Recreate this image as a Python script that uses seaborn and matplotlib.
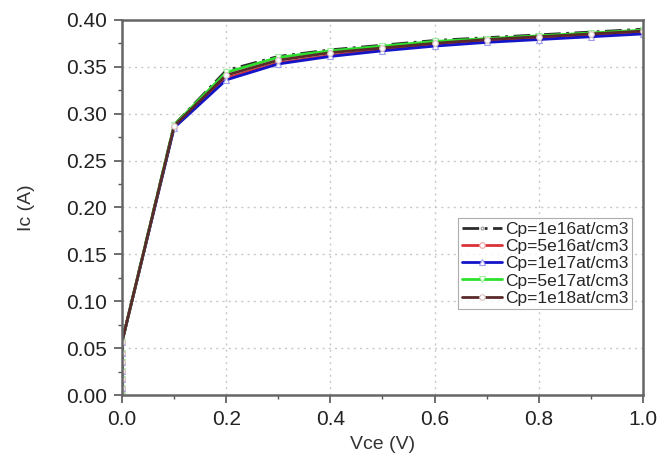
import matplotlib
matplotlib.use('Agg')
import matplotlib.pyplot as plt
import pandas as pd
import seaborn as sns
from matplotlib.ticker import MultipleLocator, FormatStrFormatter

# Data (the sweep starts with a dense set of points at Vce = 0)
vce = [0.0, 0.0, 0.0, 0.0, 0.0, 0.0, 0.0, 0.1, 0.2, 0.3, 0.4, 0.5, 0.6, 0.7, 0.8, 0.9, 1.0]
ic_1e16 = [0.0, 0.008, 0.017, 0.026, 0.035, 0.045, 0.057, 0.288, 0.346, 0.361, 0.368, 0.373, 0.378, 0.381, 0.384, 0.387, 0.390]
ic_5e16 = [0.0, 0.008, 0.017, 0.026, 0.035, 0.045, 0.057, 0.286, 0.338, 0.354, 0.362, 0.368, 0.373, 0.377, 0.380, 0.383, 0.386]
ic_1e17 = [0.0, 0.008, 0.017, 0.026, 0.035, 0.045, 0.057, 0.285, 0.336, 0.353, 0.361, 0.367, 0.372, 0.376, 0.379, 0.382, 0.385]
ic_5e17 = [0.0, 0.008, 0.017, 0.026, 0.035, 0.045, 0.057, 0.288, 0.344, 0.360, 0.367, 0.372, 0.377, 0.380, 0.383, 0.386, 0.389]
ic_1e18 = [0.0, 0.008, 0.017, 0.026, 0.035, 0.045, 0.057, 0.287, 0.341, 0.357, 0.365, 0.370, 0.375, 0.379, 0.382, 0.385, 0.388]

labels = ['Cp=1e16at/cm3', 'Cp=5e16at/cm3', 'Cp=1e17at/cm3', 'Cp=5e17at/cm3', 'Cp=1e18at/cm3']
series = [ic_1e16, ic_5e16, ic_1e17, ic_5e17, ic_1e18]

colors = ['#2b2b2b', '#d9333a', '#1414c8', '#2ee02e', '#5a2a2a']
markers = ['.', 'o', '^', 'v', 'o']
marker_colors = ['#999999', '#f0a0a0', '#a0a0f0', '#a0f0a0', '#d8c0c0']
dashes = [(6, 2, 1, 2), None, None, None, None]

sns.set_style('white')
plt.rcParams['font.family'] = ['Liberation Sans', 'DejaVu Sans']

fig, ax = plt.subplots(figsize=(6.6, 4.62), dpi=100)
fig.subplots_adjust(left=0.185, right=0.974, top=0.957, bottom=0.145)

for lab, ys, c, m, mc, d in zip(labels, series, colors, markers, marker_colors, dashes):
    df = pd.DataFrame({'Vce': vce, 'Ic': ys})
    sns.lineplot(data=df, x='Vce', y='Ic', ax=ax, color=c, lw=2.0,
                 estimator=None, sort=False,
                 marker=m, markersize=4, markerfacecolor='white',
                 markeredgecolor=mc, markeredgewidth=0.8, label=lab)
    if d:
        ax.lines[-1].set_dashes(d)

ax.set_xlim(0, 1.0)
ax.set_ylim(0, 0.40)
ax.xaxis.set_major_locator(MultipleLocator(0.2))
ax.xaxis.set_minor_locator(MultipleLocator(0.1))
ax.yaxis.set_major_locator(MultipleLocator(0.05))
ax.yaxis.set_minor_locator(MultipleLocator(0.025))
ax.tick_params(which='major', direction='out', length=6, width=1.2, color='#555555',
               labelsize=15, labelcolor='#222222', bottom=True, left=True, pad=5)
ax.tick_params(which='minor', direction='out', length=3, width=1, color='#555555',
               bottom=True, left=True)
ax.yaxis.set_major_formatter(FormatStrFormatter('%.2f'))
ax.xaxis.set_major_formatter(FormatStrFormatter('%.1f'))

ax.grid(True, which='major', linestyle=(0, (1.5, 3)), color='#c8c8c8', lw=1)
for sp in ax.spines.values():
    sp.set_color('#666666')
    sp.set_linewidth(1.8)

ax.set_xlabel('Vce (V)', fontsize=14, color='#333333', labelpad=5)
ax.set_ylabel('Ic (A)', fontsize=14, color='#333333', labelpad=22)

leg = ax.legend(loc='center right', bbox_to_anchor=(0.979, 0.35), fontsize=12.5,
                frameon=True, fancybox=False, borderpad=0.2, labelspacing=0.12,
                handlelength=2.3, handletextpad=0.2, borderaxespad=0.0)
leg.get_frame().set_edgecolor('#999999')
leg.get_frame().set_linewidth(0.8)

fig.savefig('out.png', dpi=100)
